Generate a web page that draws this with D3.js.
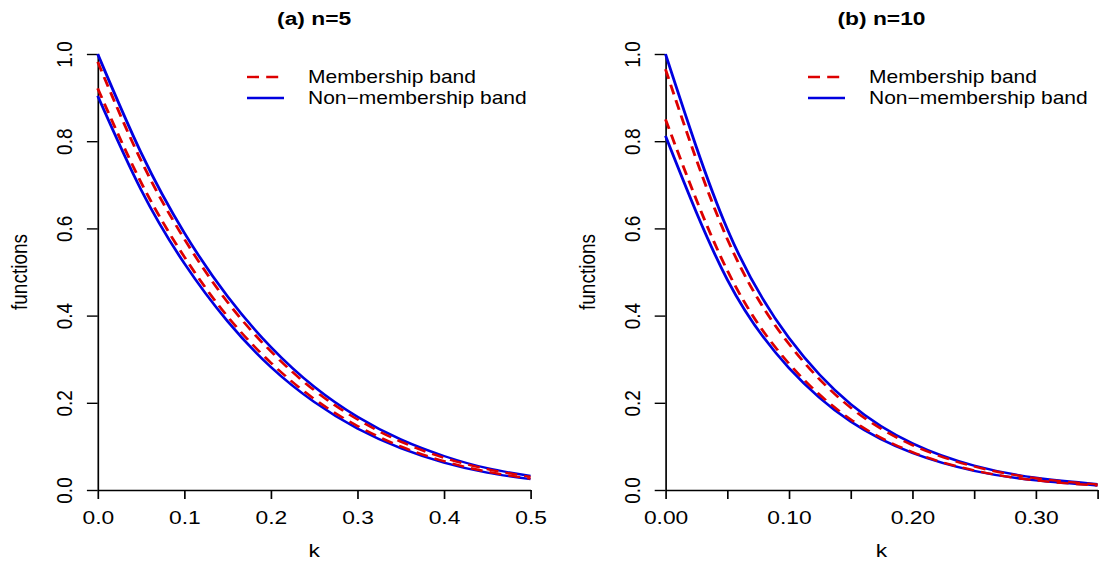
<!DOCTYPE html>
<html lang="en">
<head>
<meta charset="utf-8">
<script src="https://d3js.org/d3.v7.min.js"></script>
<style>
  body { margin: 0; background: #fff; }
  svg text { font-family: "Liberation Sans", Arial, Helvetica, sans-serif; fill: #000; }
</style>
</head>
<body>
<div id="chart"></div>
<script>
// panel (a) n=5
const kA = [0, 0.05, 0.10, 0.15, 0.20, 0.25, 0.30, 0.35, 0.40, 0.45, 0.50];
const nonUpperA = [1.000, 0.774, 0.590, 0.444, 0.328, 0.237, 0.168, 0.116, 0.078, 0.050, 0.032];
const memUpperA = [0.982, 0.756, 0.576, 0.431, 0.318, 0.229, 0.162, 0.111, 0.074, 0.048, 0.030];
const memLowerA = [0.921, 0.706, 0.535, 0.398, 0.292, 0.209, 0.147, 0.100, 0.066, 0.042, 0.026];
const nonLowerA = [0.904, 0.689, 0.520, 0.387, 0.282, 0.202, 0.141, 0.096, 0.063, 0.040, 0.025];

// panel (b) n=10
const kB = [0, 0.05, 0.10, 0.15, 0.20, 0.25, 0.30, 0.35];
const nonUpperB = [1.000, 0.599, 0.349, 0.197, 0.107, 0.056, 0.028, 0.0135];
const memUpperB = [0.965, 0.576, 0.335, 0.189, 0.103, 0.054, 0.027, 0.0127];
const memLowerB = [0.850, 0.504, 0.290, 0.162, 0.087, 0.045, 0.022, 0.0105];
const nonLowerB = [0.812, 0.483, 0.280, 0.157, 0.085, 0.044, 0.022, 0.0104];

const xTicksA = [0, 0.1, 0.2, 0.3, 0.4, 0.5];
const xLabelsA = ["0.0", "0.1", "0.2", "0.3", "0.4", "0.5"];
const xTicksB = [0, 0.05, 0.10, 0.15, 0.20, 0.25, 0.30, 0.35];
const xLabelsB = ["0.00", "", "0.10", "", "0.20", "", "0.30", ""];
const yTicks = [0, 0.2, 0.4, 0.6, 0.8, 1.0];
const yLabels = ["0.0", "0.2", "0.4", "0.6", "0.8", "1.0"];
const titles = ["(a) n=5", "(b) n=10"];
const legendLabels = ["Membership band", "Non\u2212membership band"];

const RED = "#dd0000", BLUE = "#0000e0";
// the picture is a little wider than tall, so draw in a narrower box and stretch it
const S = 1.2, W = 1099 / S, H = 564;
const FS = 19;

const svg = d3.select("#chart").append("svg")
    .attr("width", 1099).attr("height", H)
    .attr("viewBox", `0 0 ${W} ${H}`)
    .attr("preserveAspectRatio", "none");

const y = d3.scaleLinear().domain([0, 1]).range([490, 54]);

function drawPanel(k, curves, xDomain, xPx, xTicks, xLabels, title, legPx) {
    const x = d3.scaleLinear().domain(xDomain).range([xPx[0] / S, xPx[1] / S]);
    const g = svg.append("g");

    // x axis
    const ax = g.append("g").attr("transform", "translate(0,490)")
        .call(d3.axisBottom(x).tickValues(xTicks).tickSize(9).tickSizeOuter(0)
            .tickFormat((d, i) => xLabels[i]));
    ax.select(".domain").attr("stroke-width", 1.4);
    ax.selectAll(".tick line").attr("stroke-width", 1.4);
    ax.selectAll(".tick text").attr("font-size", FS).attr("y", 21).attr("dy", "0.71em");

    // y axis
    const ay = g.append("g").attr("transform", `translate(${x(xDomain[0])},0)`)
        .call(d3.axisLeft(y).tickValues(yTicks).tickSize(9).tickSizeOuter(0)
            .tickFormat((d, i) => yLabels[i]));
    ay.select(".domain").attr("stroke-width", 1.4);
    ay.selectAll(".tick line").attr("stroke-width", 1.4);
    ay.selectAll(".tick text").attr("font-size", FS)
        .attr("x", null).attr("dy", null).attr("text-anchor", "middle")
        .attr("transform", "translate(-21.5,0) rotate(-90)");

    const xMid = (x.range()[0] + x.range()[1]) / 2;
    g.append("text").attr("x", xMid).attr("y", 557).attr("text-anchor", "middle")
        .attr("font-size", FS).text("k");
    g.append("text").attr("transform", `translate(${x.range()[0] - 59},272) rotate(-90)`)
        .attr("text-anchor", "middle").attr("font-size", FS).text("functions");
    g.append("text").attr("x", xMid).attr("y", 25).attr("text-anchor", "middle")
        .attr("font-size", FS).attr("font-weight", "bold").text(title);

    const line = d3.line().curve(d3.curveNatural);
    curves.forEach(c => {
        g.append("path")
            .attr("d", line(k.map((kk, i) => [x(kk), y(c.v[i])])))
            .attr("fill", "none").attr("stroke", c.col).attr("stroke-width", 2.4)
            .attr("stroke-dasharray", c.dash ? "10,6" : null);
    });

    // legend
    const lg = g.append("g");
    [[RED, true, 77], [BLUE, false, 98]].forEach((it, i) => {
        lg.append("line").attr("x1", legPx / S).attr("x2", (legPx + 37) / S)
            .attr("y1", it[2]).attr("y2", it[2])
            .attr("stroke", it[0]).attr("stroke-width", 2.4)
            .attr("stroke-dasharray", it[1] ? "10,6" : null);
        lg.append("text").attr("x", (legPx + 61) / S).attr("y", it[2] + 6)
            .attr("font-size", 17.5).text(legendLabels[i]);
    });
}

drawPanel(kA, [
    { v: nonUpperA, col: BLUE }, { v: nonLowerA, col: BLUE },
    { v: memUpperA, col: RED, dash: true }, { v: memLowerA, col: RED, dash: true }
], [0, 0.5], [97.7, 530.5], xTicksA, xLabelsA, titles[0], 247);

drawPanel(kB, [
    { v: nonUpperB, col: BLUE }, { v: nonLowerB, col: BLUE },
    { v: memUpperB, col: RED, dash: true }, { v: memLowerB, col: RED, dash: true }
], [0, 0.35], [665.5, 1097.5], xTicksB, xLabelsB, titles[1], 808);
</script>
</body>
</html>
